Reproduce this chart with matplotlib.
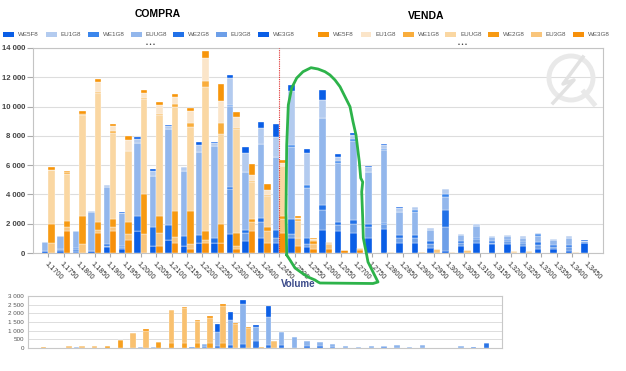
import matplotlib
matplotlib.use('Agg')
import matplotlib.pyplot as plt
from matplotlib.lines import Line2D
from matplotlib.patches import Rectangle, Ellipse

plt.rcParams['font.family'] = ['Liberation Sans', 'DejaVu Sans']

# ---------------- data ----------------
series = ['WE5F8', 'EU1G8', 'WE1G8', 'EUUG8', 'WE2G8', 'EU3G8', 'WE3G8']

price_labels = ['1,1700', '1,1750', '1,1800', '1,1850', '1,1900', '1,1950', '1,2000', '1,2050',
                '1,2100', '1,2150', '1,2200', '1,2250', '1,2300', '1,2350', '1,2400', '1,2450',
                '1,2500', '1,2550', '1,2600', '1,2650', '1,2700', '1,2750', '1,2800', '1,2850',
                '1,2900', '1,2950', '1,3000', '1,3050', '1,3100', '1,3150', '1,3200', '1,3250',
                '1,3300', '1,3350', '1,3400', '1,3450']
current_idx = 15
ytick_values = [0, 2000, 4000, 6000, 8000, 10000, 12000, 14000]
ytick_labels = ['0', '2 000', '4 000', '6 000', '8 000', '10 000', '12 000', '14 000']
ytick2_values = [0, 500, 1000, 1500, 2000, 2500, 3000]
ytick2_labels = ['0', '500', '1 000', '1 500', '2 000', '2 500', '3 000']

# COMPRA (blue) volumes per series
compra_WE3G8 = [150,150,100,150,400,300,1500,450,900,450,700,700,1300,800,1000,700,1000,400,
                1600,1500,1400,1000,1650,700,700,350,150,500,650,600,600,500,250,250,150,650]
compra_EU3G8 = [0,100,150,0,100,100,0,0,0,0,0,0,3100,600,1100,300,300,200,
                1370,400,550,800,300,300,300,250,1600,200,300,100,200,150,300,150,250,0]
compra_WE2G8 = [0,0,100,0,100,50,1000,1350,1000,700,550,300,100,200,300,600,1050,400,
                300,200,300,200,100,200,200,200,1200,100,100,100,100,100,200,150,150,100]
compra_EUUG8 = [600,894,1136,2656,3938,2300,5000,3430,6550,4420,5680,6300,5510,3950,5025,4944,4900,3450,
                5930,4050,5400,3560,4975,1610,1610,800,900,430,760,290,260,294,420,310,500,100]
compra_WE1G8 = [0,0,0,0,0,0,0,0,0,0,0,0,100,0,0,0,120,200,
                0,100,150,0,100,0,100,0,200,0,0,0,0,0,100,0,0,0]
compra_EU1G8 = [0,0,0,50,100,0,300,400,200,300,450,200,1830,1300,1100,1400,3700,2200,
                1250,330,270,300,250,250,200,140,300,100,200,100,100,100,100,100,115,0]
compra_WE5F8 = [0,0,0,0,0,60,103,100,100,0,200,80,230,390,450,850,370,230,
                650,180,150,100,50,50,0,0,10,0,0,0,0,0,0,0,0,40]

# VENDA (orange) volumes per series
venda_WE3G8 = [0,1500,0,1400,1500,900,0,450,700,300,700,700,300,1500,700,1400,450,300,
               300,230,200,0,0,0,70,0,0,0,0,0,0,0,0,0,0,0]
venda_EU3G8 = [650,300,600,200,300,400,1300,900,400,300,200,0,200,600,800,900,550,300,
               300,0,145,0,0,0,0,250,0,230,0,0,0,0,0,0,0,0]
venda_WE2G8 = [1300,400,1900,500,500,800,2700,1150,1800,2300,600,1300,900,200,300,200,0,200,
               0,0,0,0,0,0,0,0,0,0,0,0,0,0,0,0,0,0]
venda_EUUG8 = [3700,3200,6900,8800,5900,4900,6500,6900,7070,5700,9870,6155,7065,2525,2085,3450,1200,130,
               153,0,0,0,40,30,0,0,70,0,0,30,115,115,30,30,40,0]
venda_WE1G8 = [0,100,100,100,100,0,100,100,200,250,350,700,100,100,100,0,100,0,
               0,0,0,0,0,0,0,0,0,0,0,0,0,0,0,0,0,0]
venda_EU1G8 = [0,0,0,700,400,700,300,600,500,840,1600,1500,750,400,300,200,100,0,
               0,0,0,0,0,0,0,0,0,0,0,0,0,0,0,0,0,0]
venda_WE5F8 = [200,120,206,200,116,317,200,245,200,200,450,1200,300,750,400,200,115,100,
               0,0,0,0,0,0,0,0,0,0,0,0,0,0,0,0,0,0]

# lower (navigator) panel
nav_compra_lo = [0,0,0,0,0,0,0,0,0,0,0,0,50,80,100,150,250,400,150,150,0,120,100,50,0,0,0,40,0,0,0,0,0,0,50,290]
nav_compra_body = [0,0,0,50,0,0,0,0,40,40,0,0,0,170,850,1470,2270,800,1650,750,610,280,245,160,95,50,95,55,150,50,150,0,0,100,0,0]
nav_compra_cap = [0,0,0,0,0,0,0,0,0,0,0,0,0,0,425,440,250,140,600,0,0,0,0,0,0,0,0,0,0,0,0,0,0,0,0,0]
nav_venda_lo = [40,0,0,0,0,115,480,0,0,325,300,300,300,300,300,0,0,60,0,0,0,0,0,0,0,0,0,0,0,0,0,0,0,0,0,0]
nav_venda_body = [0,0,115,110,130,0,0,880,1000,0,1900,2000,1240,1450,2100,1400,1150,0,380,0,0,0,0,0,0,0,0,0,0,0,0,0,0,0,0,0]
nav_venda_cap = [0,0,0,0,0,0,0,0,110,0,0,50,100,100,140,70,35,0,0,0,0,0,0,0,0,0,0,0,0,0,0,0,0,0,0,0]

compra = {'WE5F8': compra_WE5F8, 'EU1G8': compra_EU1G8, 'WE1G8': compra_WE1G8, 'EUUG8': compra_EUUG8,
          'WE2G8': compra_WE2G8, 'EU3G8': compra_EU3G8, 'WE3G8': compra_WE3G8}
venda = {'WE5F8': venda_WE5F8, 'EU1G8': venda_EU1G8, 'WE1G8': venda_WE1G8, 'EUUG8': venda_EUUG8,
         'WE2G8': venda_WE2G8, 'EU3G8': venda_EU3G8, 'WE3G8': venda_WE3G8}

# ---------------- style ----------------
blue_colors = {'WE5F8': '#0a5ee6', 'EU1G8': '#b3cbef', 'WE1G8': '#3b86ec', 'EUUG8': '#93b7ec',
               'WE2G8': '#2171e8', 'EU3G8': '#6d9fe8', 'WE3G8': '#0a5ee6'}
orange_colors = {'WE5F8': '#f7950a', 'EU1G8': '#fbe5c9', 'WE1G8': '#f9ad3c', 'EUUG8': '#fad7a2',
                 'WE2G8': '#f79a12', 'EU3G8': '#f9c57b', 'WE3G8': '#f7900a'}
stack_order = ['WE3G8', 'EU3G8', 'WE2G8', 'EUUG8', 'WE1G8', 'EU1G8', 'WE5F8']

W, H = 626, 371
fig = plt.figure(figsize=(W / 100, H / 100), dpi=100)


def fx(px):
    return px / W


def fy(py):
    return 1 - py / H


ax = fig.add_axes([fx(33), fy(253), (603 - 33) / W, (253 - 48) / H])
n = len(price_labels)
xs = list(range(n))
bw = 0.42


def draw_stack(axis, data, colors, offset):
    base = [0] * n
    for name in stack_order:
        vals = data[name]
        axis.bar([i + offset for i in xs], vals, bw, bottom=base, color=colors[name],
                 edgecolor='white', linewidth=0.25, zorder=2)
        base = [b + v for b, v in zip(base, vals)]


draw_stack(ax, compra, blue_colors, -bw / 2)
draw_stack(ax, venda, orange_colors, bw / 2)

ax.set_xlim(-1, n)
ax.set_ylim(0, 14000)
ax.set_yticks(ytick_values)
ax.set_yticklabels(ytick_labels, fontsize=5.6, color='#444444', fontweight='bold')
ax.set_xticks(xs)
ax.set_xticklabels(price_labels, rotation=-45, ha='left', va='top', rotation_mode='anchor',
                   fontsize=5.3, color='#333333')
ax.tick_params(axis='x', length=3, color='#aaaaaa', pad=2)
ax.tick_params(axis='y', length=4, color='#aaaaaa', pad=1.5)
ax.grid(axis='y', color='#dddddd', linewidth=0.8, zorder=0)
ax.set_axisbelow(True)
for s in ax.spines.values():
    s.set_color('#c4c4c4')
    s.set_linewidth(0.8)
ax.axvline(current_idx, color='#e03030', linestyle=(0, (1, 1)), linewidth=0.8, zorder=3)

# navigator panel
ax2 = fig.add_axes([fx(28), fy(348), (502 - 28) / W, (348 - 296) / H])
nav_b = [('lo', nav_compra_lo, '#2a74e6'), ('body', nav_compra_body, '#8db4ec'), ('cap', nav_compra_cap, '#0b5fe6')]
nav_o = [('lo', nav_venda_lo, '#f7a020'), ('body', nav_venda_body, '#f9c170'), ('cap', nav_venda_cap, '#f7960f')]
for group, off in ((nav_b, -bw / 2), (nav_o, bw / 2)):
    base = [0] * n
    for _, vals, col in group:
        ax2.bar([i + off for i in xs], vals, bw, bottom=base, color=col, edgecolor='white',
                linewidth=0.2, zorder=2)
        base = [b + v for b, v in zip(base, vals)]
ax2.set_xlim(-1, n)
ax2.set_ylim(0, 3000)
ax2.set_yticks(ytick2_values)
ax2.set_yticklabels(ytick2_labels, fontsize=4.5, color='#555555')
ax2.set_xticks([])
ax2.tick_params(axis='y', length=0, pad=3)
ax2.grid(axis='y', color='#dddddd', linewidth=0.7, zorder=0)
ax2.set_axisbelow(True)
for s in ax2.spines.values():
    s.set_color('#c8c8c8')
    s.set_linewidth(0.8)

# titles
fig.text(fx(158), fy(14), 'COMPRA', ha='center', va='center', fontsize=7.5, fontweight='bold')
fig.text(fx(426), fy(16), 'VENDA', ha='center', va='center', fontsize=7.5, fontweight='bold')

# legends
for i, name in enumerate(series):
    for x0, cols in ((3 + i * 42.5, blue_colors), (318 + i * 42.5, orange_colors)):
        fig.add_artist(Rectangle((fx(x0), fy(36.7)), 11 / W, 5 / H, transform=fig.transFigure,
                                 facecolor=cols[name], edgecolor='none'))
        fig.text(fx(x0 + 15), fy(34.3), name, fontsize=4.5, va='center', ha='left', color='#555555')
fig.text(fx(151), fy(45), '\u2022 \u2022 \u2022', fontsize=4, ha='center', va='center', color='#333333')
fig.text(fx(463), fy(45), '\u2022 \u2022 \u2022', fontsize=4, ha='center', va='center', color='#333333')

# axis title
fig.text(fx(298), fy(284), 'Volume', ha='center', va='center', fontsize=7, fontweight='bold',
         color='#3b4a8a')

# watermark logo
fig.add_artist(Ellipse((fx(571), fy(78)), 44 / W, 44 / H, transform=fig.transFigure,
                       fill=False, edgecolor='#e9e9e9', linewidth=3.5))
wm_x = [583, 563, 574, 553]
wm_y = [57, 84, 80, 103]
fig.add_artist(Line2D([fx(v) for v in wm_x], [fy(v) for v in wm_y], transform=fig.transFigure,
                      color='#e2e2e2', linewidth=2.5))
fig.add_artist(Line2D([fx(584), fx(594)], [fy(92), fy(104)], transform=fig.transFigure,
                      color='#e9e9e9', linewidth=3.5))

# green hand-drawn loop annotation
loop_x = [286.7, 286, 286.7, 288.3, 291.7, 296.7, 303, 311, 318, 325, 330, 335, 340, 345, 350, 353,
          356, 359.3, 360.7, 362.7, 361.7, 362.7, 363.3, 366.7, 368, 373, 378, 373, 320, 318, 315,
          308, 302, 295, 290, 286.7]
loop_y = [255, 211.7, 145, 105, 88, 78, 71.7, 67.7, 69, 71.7, 75, 80, 86.7, 96.7, 106.7, 121.7,
          135, 161.7, 178, 182, 191.7, 218, 238, 255, 262, 272, 282, 283.5, 283, 282, 280,
          277, 273, 268, 260, 255]
fig.add_artist(Line2D([fx(v) for v in loop_x], [fy(v) for v in loop_y], transform=fig.transFigure,
                      color='#2db34a', linewidth=2, solid_joinstyle='round', solid_capstyle='round'))

fig.savefig('out.png', dpi=100)
